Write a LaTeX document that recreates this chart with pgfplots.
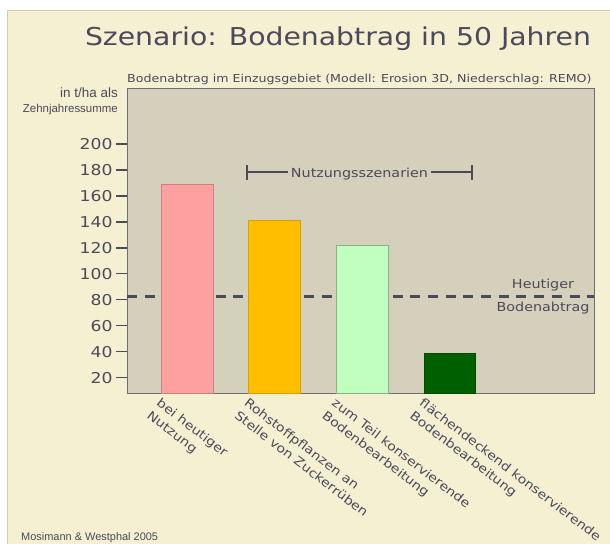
\documentclass[border=0pt]{standalone}
\usepackage{fontspec}
\usepackage{pgfplots}
\pgfplotsset{compat=1.18}
\setmainfont{DejaVu Sans}[FakeStretch=1.15]
\newfontfamily\arial{Liberation Sans}
\definecolor{pagebg}{RGB}{245,240,210}
\definecolor{plotbg}{RGB}{212,208,188}
\definecolor{textcol}{RGB}{74,74,90}
\definecolor{framecol}{RGB}{110,110,120}
\definecolor{cpink}{RGB}{255,160,160}
\definecolor{corange}{RGB}{255,190,0}
\definecolor{clgreen}{RGB}{192,255,192}
\definecolor{cdgreen}{RGB}{0,96,0}
\begin{document}
\begin{tikzpicture}
\fill[white] (0,0) rectangle (610bp,-544bp);
\fill[pagebg] (7bp,-10bp) rectangle (610bp,-544bp);
\draw[pagebg!85!black, line width=0.5bp] (7bp,-544bp) -- (7bp,-10bp) -- (610bp,-10bp);
\begin{axis}[
  at={(127bp,-393bp)}, anchor=south west,
  scale only axis, width=467bp, height=305bp,
  xmin=-0.685, xmax=4.646, ymin=8.2, ymax=243.2,
  axis background/.style={fill=plotbg},
  axis line style={draw=framecol, line width=1bp},
  ytick={20,40,...,200},
  xtick={0,1,2,3},
  xticklabels={{bei heutiger\\Nutzung},{Rohstoffpflanzen an\\Stelle von Zuckerrüben},{zum Teil konservierende\\Bodenbearbeitung},{flächendeckend konservierende\\Bodenbearbeitung}},
  ytick pos=left,
  tick align=outside,
  major tick length=11bp,
  major x tick style={draw=none},
  major y tick style={draw=textcol, line width=1.2bp},
  /pgf/number format/assume math mode=true,
  yticklabel style={font=\fontsize{15}{18}\selectfont, text=textcol},
  xticklabel style={font=\fontsize{12.3}{16}\selectfont, text=textcol, align=left, anchor=north west, xshift=-26bp, yshift=11bp, rotate=-37.5, inner sep=3bp},
  ybar, bar width=51.7bp, bar shift=0pt,
]
\addplot[ybar=false, sharp plot, draw=textcol, line width=3bp, dash pattern=on 10bp off 7.7bp, mark=none] coordinates {(-0.685,82.4) (4.646,82.4)};
\addplot[fill=cpink, draw=cpink!80!black, line width=0.6bp] coordinates {(0,169)};
\addplot[fill=corange, draw=corange!85!black, line width=0.6bp] coordinates {(1,141.5)};
\addplot[fill=clgreen, draw=clgreen!70!black, line width=0.6bp] coordinates {(2,121.7)};
\addplot[fill=cdgreen, draw=cdgreen!80!black, line width=0.6bp] coordinates {(3,38.8)};
\end{axis}
\node[anchor=base, inner sep=0, font=\fontsize{24.7}{30}\selectfont, text=textcol] at (338bp,-45bp) {Szenario: Bodenabtrag in 50 Jahren};
\node[anchor=base west, inner sep=0, font=\fontsize{11}{13}\selectfont, text=textcol] at (127bp,-82bp) {Bodenabtrag im Einzugsgebiet (Modell: Erosion 3D, Niederschlag: REMO)};
\node[anchor=base east, inner sep=0, font=\arial\fontsize{13.5}{16}\selectfont, text=textcol] at (118bp,-97bp) {in t/ha als};
\node[anchor=base east, inner sep=0, font=\arial\fontsize{11.5}{14}\selectfont, text=textcol] at (118bp,-112bp) {Zehnjahressumme};
\node[anchor=base west, inner sep=0, font=\arial\fontsize{11}{13}\selectfont, text=textcol] at (21bp,-540bp) {Mosimann \& Westphal 2005};
\node[anchor=base, inner sep=0, font=\fontsize{12.5}{15}\selectfont, text=textcol] at (543bp,-288bp) {Heutiger};
\node[anchor=base, inner sep=0, font=\fontsize{12.5}{15}\selectfont, text=textcol] at (543bp,-311.5bp) {Bodenabtrag};
\draw[textcol, line width=1.8bp] (247bp,-165bp) -- (247bp,-179.5bp);
\draw[textcol, line width=1.8bp] (472bp,-165bp) -- (472bp,-179.5bp);
\draw[textcol, line width=1.8bp] (247bp,-172.3bp) -- (288bp,-172.3bp);
\draw[textcol, line width=1.8bp] (431bp,-172.3bp) -- (472bp,-172.3bp);
\node[anchor=base, inner sep=0, font=\fontsize{12.5}{15}\selectfont, text=textcol] at (359.5bp,-177.5bp) {Nutzungsszenarien};
\pgfresetboundingbox
\useasboundingbox (0,0) rectangle (610bp,-544bp);
\end{tikzpicture}
\end{document}
